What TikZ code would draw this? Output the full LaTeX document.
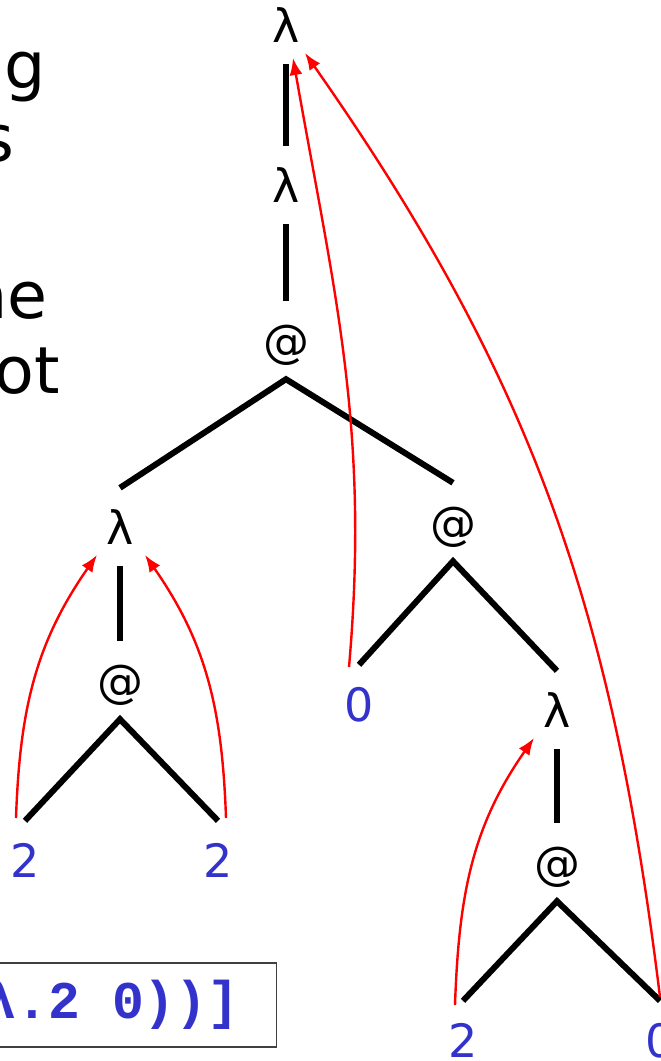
\documentclass[tikz,border=0pt]{standalone}
\usepackage{fontspec}
\setmainfont{DejaVu Sans}
\newfontfamily\codefont{Liberation Mono}
\usetikzlibrary{arrows.meta}
\definecolor{leafblue}{HTML}{3333CC}
\definecolor{boxgrey}{HTML}{404040}

\begin{document}
\begin{tikzpicture}[x=1pt, y=-1pt,
    term/.style={inner sep=0pt, minimum width=50pt, minimum height=78pt,
      text height=34pt, text depth=0pt, font=\fontsize{46}{55}\selectfont},
    leaf/.style={term, text=leafblue},
    edge/.style={line width=6pt, draw=black},
    bind/.style={-{Latex[length=17pt, width=13pt]}, line width=2.4pt, draw=red},
    prose/.style={anchor=base east, inner sep=0pt,
      font=\fontsize{65}{76}\selectfont},
    code/.style={draw=boxgrey, line width=1.2pt, anchor=east, inner xsep=37pt,
      minimum height=84pt, text=leafblue,
      font=\codefont\bfseries\fontsize{53}{64}\selectfont},
  ]
    \useasboundingbox (0,0) rectangle (661,1061);
    \clip (0,0) rectangle (661,1061);

    % Slide text, cut at the left edge
    \node[prose] (lineA) at (46,88)  {ng};
    \node[prose] (lineB) at (15,161) {s};
    \node[prose] (lineC) at (48,318) {ne};
    \node[prose] (lineD) at (60,393) {ot};

    % Term tree
    \node[term] (lamA) at (286,25)  {λ};
    \node[term] (lamB) at (286,185) {λ};
    \node[term] (appA) at (286,340) {@};
    \node[term] (lamC) at (120,527) {λ};
    \node[term] (appB) at (120,680) {@};
    \node[leaf] (twoA) at (25,860)  {2};
    \node[leaf] (twoB) at (218,860) {2};
    \node[term] (appC) at (453,522) {@};
    \node[leaf] (zeroA) at (359,704) {0};
    \node[term] (lamD) at (557,710) {λ};
    \node[term] (appD) at (557,862) {@};
    \node[leaf] (twoC) at (463,1040) {2};
    \node[leaf] (zeroB) at (660,1040) {0};

    \draw[edge] (lamA.south) -- (lamB.north);
    \draw[edge] (lamB.south) -- (appA.north);
    \draw[edge] (lamC.north) -- (appA.south) -- (appC.north);
    \draw[edge] (lamC.south) -- (appB.north);
    \draw[edge] (twoA.north) -- (appB.south) -- (twoB.north);
    \draw[edge] (zeroA.north) -- (appC.south) -- (lamD.north);
    \draw[edge] (lamD.south) -- (appD.north);
    \draw[edge] (twoC.north) -- (appD.south) -- (zeroB.north);

    % Binding arrows, variable to its lambda
    \draw[bind] ([shift={(-10,-37)}]zeroA.center) to[out=85, in=-80]
      ([shift={(7,33)}]lamA.center);
    \draw[bind] ([shift={(0,-43)}]zeroB.center) to[out=97, in=-55]
      ([shift={(19,28)}]lamA.center);
    \draw[bind] ([shift={(-9,-42)}]twoA.center) to[out=88, in=-125]
      ([shift={(-23,28)}]lamC.center);
    \draw[bind] ([shift={(8,-42)}]twoB.center) to[out=92, in=-55]
      ([shift={(25,28)}]lamC.center);
    \draw[bind] ([shift={(-8,-35)}]twoC.center) to[out=88, in=-125]
      ([shift={(-23,28)}]lamD.center);

    % Term box, cut at the left edge
    \node[code] (termbox) at (277,1005) {λ.2 0))]};
  \end{tikzpicture}
\end{document}
